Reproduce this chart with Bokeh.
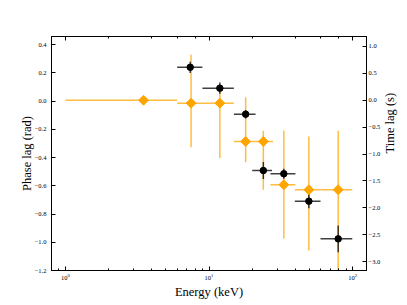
import math
from bokeh.plotting import figure
from bokeh.models import (LinearAxis, LogAxis, Range1d, FixedTicker, CustomJSTickFormatter,
                          ColumnDataSource, LogTicker)
from bokeh.embed import file_html
from bokeh.resources import INLINE

# ---- data ----
# phase lag (black)
e_phase = [7.4, 11.9, 18.0, 23.9, 33.2, 49.6, 79.4]
e_phase_lo = [6.0, 9.0, 14.9, 20.0, 26.8, 39.6, 59.8]
e_phase_hi = [9.0, 14.9, 21.1, 27.5, 40.0, 59.8, 99.5]
phase = [0.239, 0.091, -0.093, -0.492, -0.515, -0.709, -0.976]
phase_err = [0.04, 0.04, 0.03, 0.06, 0.035, 0.05, 0.095]

# time lag (orange)
e_time = [3.5, 7.5, 11.9, 18.0, 23.9, 33.2, 49.6, 79.4]
e_time_lo = [1.0, 6.0, 9.0, 14.9, 21.1, 26.8, 39.6, 59.8]
e_time_hi = [6.0, 9.0, 14.9, 21.1, 27.9, 40.0, 59.8, 99.5]
time_lag = [0.0, -0.054, -0.054, -0.766, -0.766, -1.572, -1.665, -1.665]
time_err_dn = [0.0, 0.82, 1.02, 0.385, 0.9, 1.0, 1.13, 1.7]
time_err_up = [0.0, 0.9, 0.28, 0.82, 0.2, 1.01, 0.99, 1.1]

left_ticks = [-1.2, -1.0, -0.8, -0.6, -0.4, -0.2, 0.0, 0.2, 0.4]
right_ticks = [-3.0, -2.5, -2.0, -1.5, -1.0, -0.5, 0.0, 0.5, 1.0]

SERIF = "Liberation Serif"

p = figure(width=407, height=305, x_axis_type="log", x_range=(0.8, 125),
           y_range=(-1.2, 0.457), output_backend="svg", toolbar_location=None,
           min_border_left=51, min_border_right=41, min_border_top=36, min_border_bottom=35)
p.extra_y_ranges = {"t": Range1d(-3.167, 1.186)}
p.xgrid.visible = False
p.ygrid.visible = False
p.outline_line_color = "black"
p.outline_line_width = 1
p.background_fill_color = "white"
p.border_fill_color = "white"

fmt = CustomJSTickFormatter(code="return tick.toFixed(1).replace('-', '\\u2212');")

def style_axis(ax):
    ax.major_tick_in = 4
    ax.major_tick_out = 0
    ax.minor_tick_in = 2
    ax.minor_tick_out = 0
    ax.axis_line_color = "black"
    ax.major_tick_line_color = "black"
    ax.minor_tick_line_color = "black"
    ax.major_label_text_font = SERIF
    ax.major_label_text_font_size = "6.5px"
    ax.major_label_text_color = "black"
    ax.axis_label_text_font = SERIF
    ax.axis_label_text_font_size = "12.5px"
    ax.axis_label_text_font_style = "normal"
    ax.axis_label_text_color = "black"

# bottom x axis
xa = p.xaxis[0]
style_axis(xa)
xa.axis_label = "Energy (keV)"
xa.major_label_standoff = 3
xa.axis_label_standoff = 2

# top axis (ticks only)
top = LogAxis(ticker=LogTicker())
style_axis(top)
top.major_label_text_font_size = "0px"
top.major_label_text_color = None
top.major_label_standoff = 0
p.add_layout(top, "above")

# left axis
ya = p.yaxis[0]
style_axis(ya)
ya.ticker = FixedTicker(ticks=left_ticks)
ya.formatter = fmt
ya.axis_label = "Phase lag (rad)"
ya.major_label_standoff = 5
ya.axis_label_standoff = -2

# right axis
ra = LinearAxis(y_range_name="t", ticker=FixedTicker(ticks=right_ticks), formatter=fmt)
style_axis(ra)
ra.axis_label = "Time lag (s)"
ra.axis_label_orientation = math.pi / 2
ra.major_label_standoff = 2
ra.axis_label_standoff = 7
p.add_layout(ra, "right")

# ---- orange time lag ----
src_t = ColumnDataSource(dict(
    x=e_time, y=time_lag, xlo=e_time_lo, xhi=e_time_hi,
    ylo=[v - d for v, d in zip(time_lag, time_err_dn)],
    yhi=[v + u for v, u in zip(time_lag, time_err_up)],
))
p.segment(x0="xlo", x1="xhi", y0="y", y1="y", source=src_t, y_range_name="t",
          line_color="orange", line_alpha=0.75, line_width=1.5)
p.segment(x0="x", x1="x", y0="ylo", y1="yhi", source=src_t, y_range_name="t",
          line_color="orange", line_alpha=0.75, line_width=1.5)

# ---- black phase lag ----
src_p = ColumnDataSource(dict(
    x=e_phase, y=phase, xlo=e_phase_lo, xhi=e_phase_hi,
    ylo=[v - e for v, e in zip(phase, phase_err)],
    yhi=[v + e for v, e in zip(phase, phase_err)],
))
p.segment(x0="xlo", x1="xhi", y0="y", y1="y", source=src_p,
          line_color="black", line_alpha=0.75, line_width=1.5)
p.segment(x0="x", x1="x", y0="ylo", y1="yhi", source=src_p,
          line_color="black", line_alpha=0.75, line_width=1.5)

p.scatter(x="x", y="y", source=src_t, y_range_name="t", marker="square", size=7,
          angle=math.pi / 4, fill_color="orange", line_color="orange")
p.scatter(x="x", y="y", source=src_p, marker="circle", size=6.5,
          fill_color="black", line_color="black")

open("out.html", "w").write(file_html(p, INLINE))
